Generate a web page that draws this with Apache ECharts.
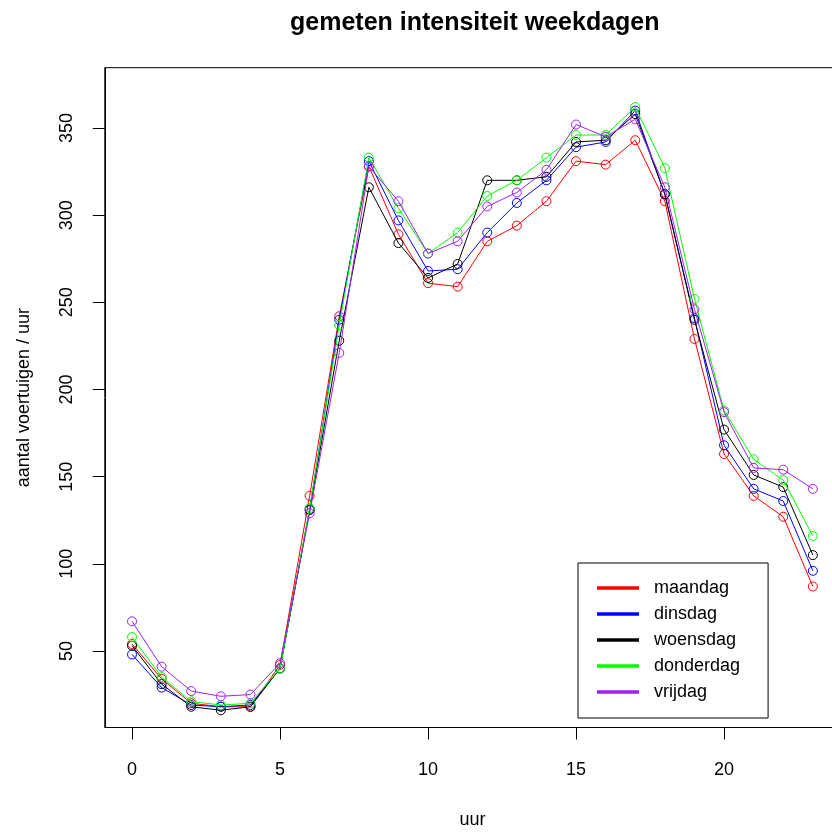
<!DOCTYPE html>
<html>
<head>
<meta charset="utf-8">
<title>gemeten intensiteit weekdagen</title>
<script src="https://cdn.jsdelivr.net/npm/echarts@6/dist/echarts.min.js"></script>
<style>
  html, body { margin: 0; padding: 0; background: #fff; }
  #chart { width: 832px; height: 832px; }
</style>
</head>
<body>
<div id="chart"></div>
<script>
// Uren van de dag
const hours = [0,1,2,3,4,5,6,7,8,9,10,11,12,13,14,15,16,17,18,19,20,21,22,23];

// Gemeten aantal voertuigen per uur, per weekdag
const maandag   = [54, 34, 20, 18, 18, 42, 139, 242, 328, 289, 261, 259, 285, 294, 308, 331, 329, 343, 308, 229, 163, 139, 127, 87];
const dinsdag   = [48, 29, 19, 18, 19, 40, 131, 240, 331, 297, 268, 269, 290, 307, 320, 339, 342, 360, 312, 241, 168, 143, 136, 96];
const woensdag  = [53, 31, 18, 16, 18, 40, 131, 228, 316, 284, 264, 272, 320, 320, 322, 342, 343, 358, 312, 240, 177, 151, 144, 105];
const donderdag = [58, 35, 21, 19, 20, 40, 132, 237, 333, 304, 278, 290, 311, 320, 333, 346, 346, 362, 327, 252, 188, 160, 148, 116];
const vrijdag   = [67, 41, 27, 24, 25, 43, 129, 221, 328, 308, 278, 285, 305, 313, 326, 352, 345, 355, 316, 246, 187, 155, 154, 143];

const dayNames  = ['maandag', 'dinsdag', 'woensdag', 'donderdag', 'vrijdag'];
const dayValues = [maandag, dinsdag, woensdag, donderdag, vrijdag];
const dayColors = ['#FF0000', '#0000FF', '#000000', '#00FF00', '#A020F0'];

// Asmarkeringen
const xTicks = [0, 5, 10, 15, 20];
const yTicks = [50, 100, 150, 200, 250, 300, 350];

const FONT = '"Liberation Sans", Arial, sans-serif';

const series = dayNames.map((name, i) => ({
  name: name,
  type: 'line',
  data: hours.map((h, k) => [h, dayValues[i][k]]),
  symbol: 'circle',
  symbolSize: 9,
  showSymbol: true,
  lineStyle: { color: dayColors[i], width: 1 },
  itemStyle: { color: 'rgba(0,0,0,0)', borderColor: dayColors[i], borderWidth: 1 },
  emphasis: { disabled: true },
  animation: false,
  z: 2 + i
}));

const chart = echarts.init(document.getElementById('chart'), null, { renderer: 'canvas' });
chart.setOption({
  backgroundColor: '#ffffff',
  animation: false,
  title: {
    text: 'gemeten intensiteit weekdagen',
    left: 285,
    top: 6,
    textStyle: { fontFamily: FONT, fontSize: 25, fontWeight: 'bold', color: '#000' }
  },
  legend: {
    orient: 'vertical',
    left: 578,
    top: 563,
    padding: [16, 28, 17, 19],
    itemWidth: 40,
    itemHeight: 1.6,
    itemGap: 8,
    icon: 'rect',
    borderColor: '#000',
    borderWidth: 1,
    backgroundColor: '#fff',
    selectedMode: false,
    textStyle: { fontFamily: FONT, fontSize: 18, color: '#000', lineHeight: 18, padding: [0, 0, 0, 11] },
    data: dayNames.map((n, i) => ({ name: n, itemStyle: { color: dayColors[i] } }))
  },
  grid: {
    left: 104.8,
    right: -8.1,
    top: 67.7,
    bottom: 832 - 727.5,
    show: true,
    borderColor: '#000',
    borderWidth: 1,
    backgroundColor: 'rgba(0,0,0,0)',
    containLabel: false,
    outerBoundsMode: 'none'
  },
  xAxis: {
    type: 'value',
    min: -0.92,
    max: 23.92,
    name: 'uur',
    nameLocation: 'middle',
    nameGap: 84,
    nameTextStyle: { fontFamily: FONT, fontSize: 18, color: '#000' },
    axisLine: { show: true, onZero: false, lineStyle: { color: '#000', width: 1 } },
    axisTick: { show: true, inside: false, length: 12, customValues: xTicks, lineStyle: { color: '#000', width: 1 } },
    axisLabel: { show: true, margin: 34, customValues: xTicks, fontFamily: FONT, fontSize: 18, color: '#000' },
    splitLine: { show: false }
  },
  yAxis: {
    type: 'value',
    min: 6.1,
    max: 384.6,
    name: 'aantal voertuigen / uur',
    nameLocation: 'middle',
    nameGap: 72,
    nameRotate: 90,
    nameTextStyle: { fontFamily: FONT, fontSize: 18, color: '#000' },
    axisLine: { show: true, onZero: false, lineStyle: { color: '#000', width: 1 } },
    axisTick: { show: true, inside: false, length: 12, customValues: yTicks, lineStyle: { color: '#000', width: 1 } },
    axisLabel: { show: true, margin: 29, rotate: 90, customValues: yTicks, fontFamily: FONT, fontSize: 18, color: '#000' },
    splitLine: { show: false }
  },
  series: series
});
</script>
</body>
</html>
